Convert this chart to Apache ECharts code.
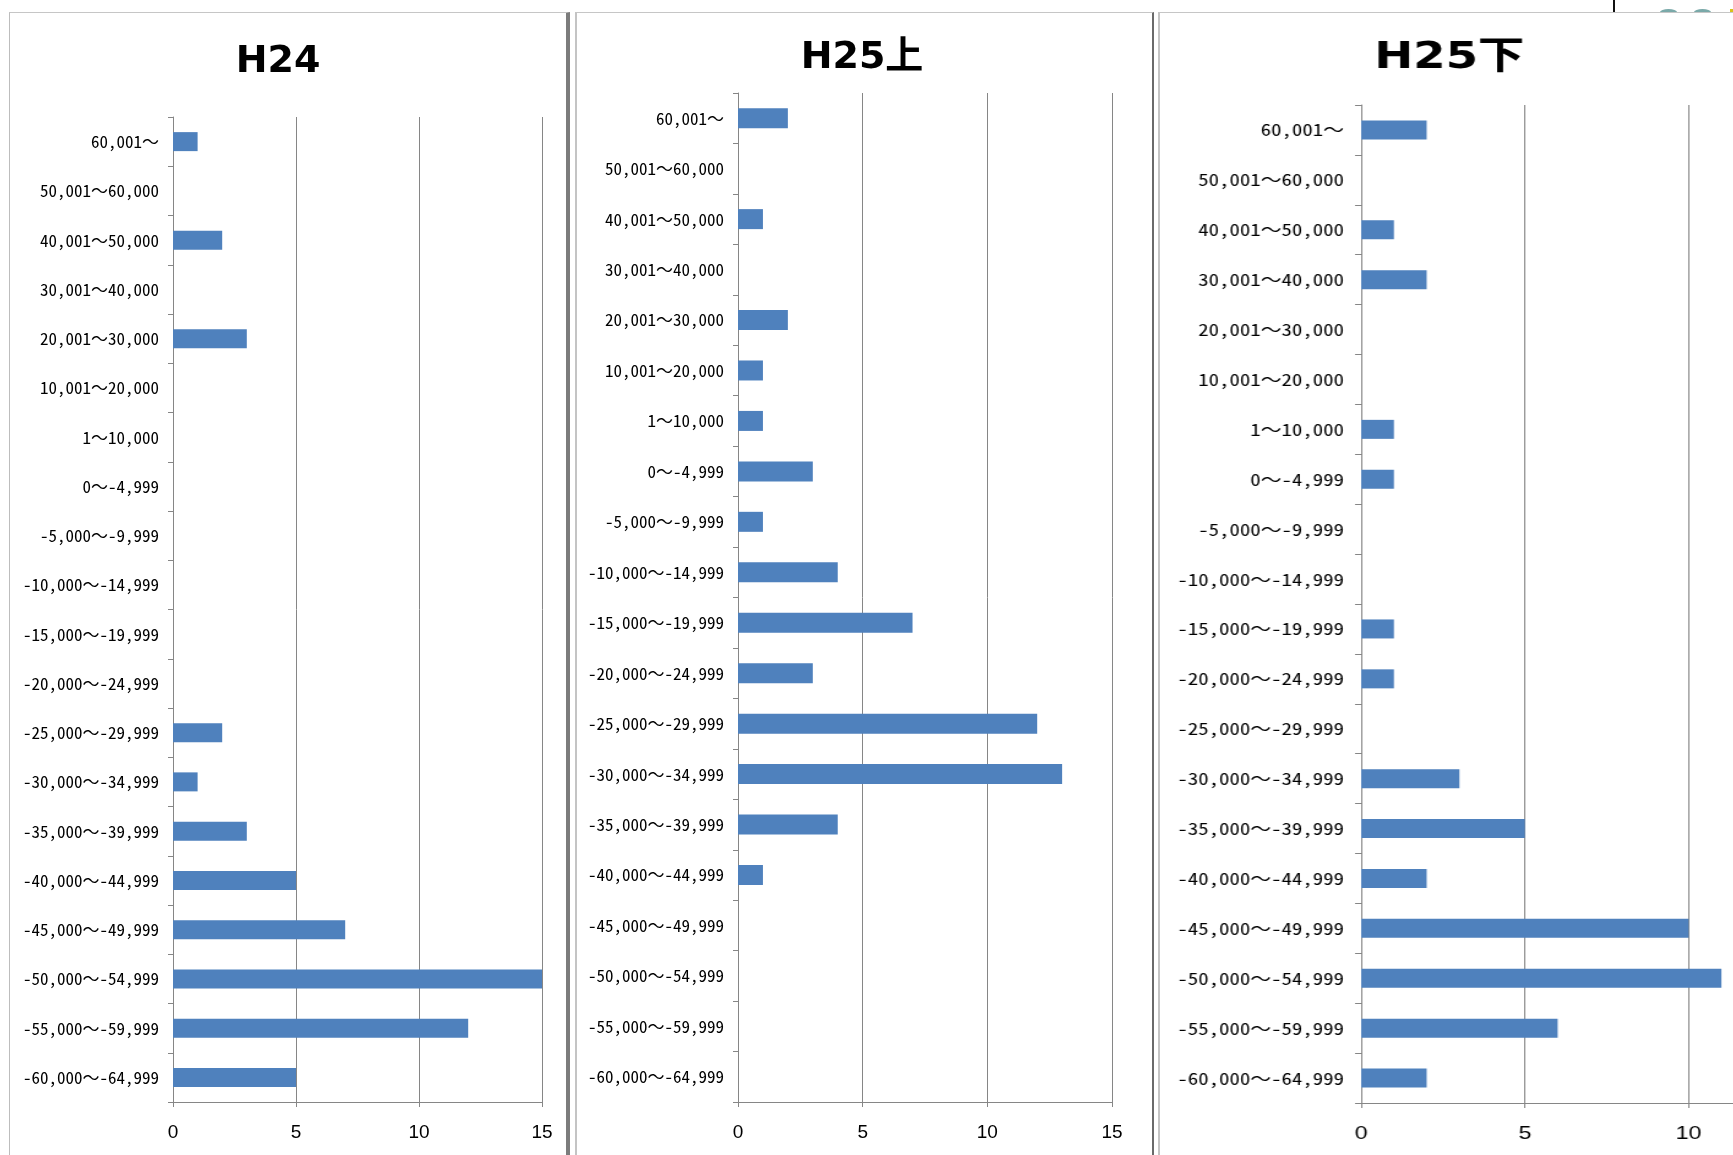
<!DOCTYPE html>
<html>
<head>
<meta charset="utf-8">
<title>所得差分布 H24 / H25上 / H25下</title>
<script src="https://cdn.jsdelivr.net/npm/echarts@6/dist/echarts.min.js"></script>
<style>
  html, body { margin: 0; padding: 0; background: #fff; }
  body { position: relative; width: 1733px; height: 1155px; overflow: hidden; }
  .frame { position: absolute; box-sizing: border-box; }
  .chart { position: absolute; top: 0; height: 1155px; }
  .mark { position: absolute; }
</style>
</head>
<body>
<!-- panel frames -->
<div class="frame" style="left:9px; top:12px; width:561px; height:1200px; border-left:1px solid #bdbdbd; border-top:1px solid #c6c6c6; border-right:4px solid #7c7c7c;"></div>
<div class="frame" style="left:575px; top:12px; width:579px; height:1200px; border-left:2px solid #c4c4c4; border-top:1px solid #c6c6c6; border-right:2px solid #6a6a6a;"></div>
<div class="frame" style="left:1158px; top:12px; width:600px; height:1200px; border-left:2px solid #c4c4c4; border-top:1px solid #c6c6c6;"></div>
<!-- small items at the top-right edge of the sheet -->
<div class="mark" style="left:1613px; top:0; width:2px; height:12px; background:#111;"></div>
<div class="mark" style="left:1660px; top:9px; width:17px; height:3px; border-radius:50% 50% 0 0 / 100% 100% 0 0; background:#7aa9a9;"></div>
<div class="mark" style="left:1694px; top:9px; width:17px; height:3px; border-radius:50% 50% 0 0 / 100% 100% 0 0; background:#7aa9a9;"></div>
<div class="mark" style="left:1730px; top:9px; width:3px; height:3px; background:#d8c21a;"></div>

<div id="c1" class="chart" style="left:0; width:566px;"></div>
<div id="c2" class="chart" style="left:570px; width:582px;"></div>
<div id="c3" class="chart" style="left:1159px; width:620px; transform:scaleX(1.225); transform-origin:0 0;"></div>

<script>
// Income-difference brackets, top to bottom
const categories = [
  '60,001～', '50,001～60,000', '40,001～50,000', '30,001～40,000',
  '20,001～30,000', '10,001～20,000', '1～10,000', '0～-4,999',
  '-5,000～-9,999', '-10,000～-14,999', '-15,000～-19,999', '-20,000～-24,999',
  '-25,000～-29,999', '-30,000～-34,999', '-35,000～-39,999', '-40,000～-44,999',
  '-45,000～-49,999', '-50,000～-54,999', '-55,000～-59,999', '-60,000～-64,999'
];

// Counts per bracket for each period
const countsH24  = [1, 0, 2, 0, 3, 0, 0, 0, 0, 0, 0, 0, 2, 1, 3, 5, 7, 15, 12, 5];
const countsH25a = [2, 0, 1, 0, 2, 1, 1, 3, 1, 4, 7, 3, 12, 13, 4, 1, 0, 0, 0, 0];
const countsH25b = [2, 0, 1, 2, 0, 0, 1, 1, 0, 0, 1, 1, 0, 3, 5, 2, 10, 11, 6, 2];

// Count axis ticks
const countMin = 0;
const countMax = 15;
const countStep = 5;

const AXIS_GRAY = '#868686';
const BAR_BLUE = '#4f81bd';
const LABEL_FONT = "'Noto Sans Mono CJK JP', 'Noto Sans CJK JP', sans-serif";
const TITLE_FONT = "'DejaVu Sans', 'Noto Sans CJK JP', sans-serif";

function panelOption(title, titleX, titleY, grid, counts, barWidth) {
  return {
    animation: false,
    title: {
      text: title,
      left: titleX,
      top: titleY,
      textAlign: 'center',
      textVerticalAlign: 'middle',
      padding: 0,
      textStyle: { fontFamily: TITLE_FONT, fontWeight: 'bold', fontSize: 38, color: '#000' }
    },
    grid: Object.assign({ containLabel: false }, grid),
    xAxis: {
      type: 'value',
      min: countMin,
      max: countMax,
      interval: countStep,
      axisLine: { show: true, lineStyle: { color: AXIS_GRAY, width: 1 } },
      axisTick: { show: true, length: 5, lineStyle: { color: AXIS_GRAY } },
      splitLine: { show: true, lineStyle: { color: AXIS_GRAY, width: 1 } },
      axisLabel: {
        margin: 21,
        fontFamily: "'Liberation Sans', Arial, sans-serif",
        fontSize: 19,
        color: '#000'
      }
    },
    yAxis: {
      type: 'category',
      inverse: true,
      data: categories,
      axisLine: { show: true, lineStyle: { color: AXIS_GRAY, width: 1 } },
      axisTick: { show: true, length: 5, lineStyle: { color: AXIS_GRAY } },
      splitLine: { show: false },
      axisLabel: {
        margin: 14,
        fontFamily: LABEL_FONT,
        fontSize: 17,
        color: '#000',
        interval: 0
      }
    },
    series: [{
      type: 'bar',
      data: counts,
      barWidth: barWidth,
      itemStyle: { color: BAR_BLUE },
      emphasis: { disabled: true }
    }]
  };
}

const charts = [
  ['c1', panelOption('H24', 278, 62, { left: 173, top: 117, width: 369, height: 985 }, countsH24, 19)],
  ['c2', panelOption('H25上', 292, 58, { left: 168, top: 93, width: 374, height: 1009 }, countsH25a, 20)],
  ['c3', panelOption('H25下', 237, 58, { left: 165, top: 105, width: 401, height: 998 }, countsH25b, 19)]
];

charts.forEach(([id, option]) => {
  const chart = echarts.init(document.getElementById(id), null, { renderer: 'canvas' });
  chart.setOption(option);
});
</script>
</body>
</html>
